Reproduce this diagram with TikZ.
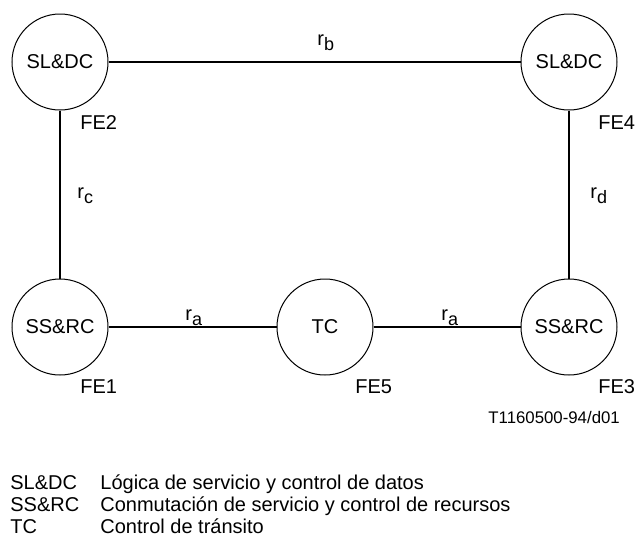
\documentclass[tikz,border=0pt]{standalone}
\usepackage{fontspec}
\setmainfont{Liberation Sans}
\newcommand{\iface}[1]{r\raisebox{-0.55ex}{\small #1}}
\tikzset{
  fe/.style={draw, circle, line width=0.5pt, minimum size=48pt, inner sep=0pt, font=\fontsize{10}{12}\selectfont},
  lbl/.style={anchor=base west, inner sep=0pt, font=\fontsize{10}{12}\selectfont},
  link/.style={line width=1pt}
}
\begin{document}
\begin{tikzpicture}[x=0.5pt,y=-0.5pt]
\useasboundingbox (0,0) rectangle (637,537);

\node[fe] (fe2) at (60,62) {SL\&DC};
\node[fe] (fe4) at (569,62) {SL\&DC};
\node[fe] (fe1) at (60,327) {SS\&RC};
\node[fe] (fe5) at (325,327) {TC};
\node[fe] (fe3) at (569,327) {SS\&RC};

\node[lbl] (n2) at (80,129) {FE2};
\node[lbl] (n4) at (598,129) {FE4};
\node[lbl] (n1) at (80,393) {FE1};
\node[lbl] (n5) at (355,393) {FE5};
\node[lbl] (n3) at (598,393) {FE3};

\draw[link] (fe2)--(fe4);
\draw[link] (fe2)--(fe1);
\draw[link] (fe4)--(fe3);
\draw[link] (fe1)--(fe5);
\draw[link] (fe5)--(fe3);

\node[lbl] (rb) at (317,45) {\iface{b}};
\node[lbl] (rc) at (77,198) {\iface{c}};
\node[lbl] (rd) at (590,198) {\iface{d}};
\node[lbl] (ra1) at (185,320) {\iface{a}};
\node[lbl] (ra2) at (441,320) {\iface{a}};

\node[lbl, font=\fontsize{8.4}{10}\selectfont] (code) at (488,423) {T1160500-94/d01};

% legend
\node[lbl] (k1) at (10,489) {SL\&DC};
\node[lbl] (k2) at (10,511) {SS\&RC};
\node[lbl] (k3) at (10,533) {TC};
\node[lbl] (d1) at (100,489) {Lógica de servicio y control de datos};
\node[lbl] (d2) at (100,511) {Conmutación de servicio y control de recursos};
\node[lbl] (d3) at (100,533) {Control de tránsito};
\end{tikzpicture}
\end{document}
